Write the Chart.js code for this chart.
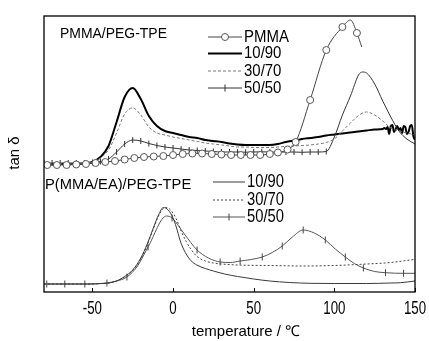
<!DOCTYPE html>
<html><head><meta charset="utf-8">
<script src="https://cdn.jsdelivr.net/npm/chart.js@4"></script>
<style>html,body{margin:0;padding:0;background:#fff}</style>
</head><body>
<canvas id="c" width="429" height="341"></canvas>
<script>
// ---------- data (tan δ in arbitrary, vertically offset units) ----------
const xTicks = [-50, 0, 50, 100, 150];
const panelLabels = ['PMMA/PEG-TPE', 'P(MMA/EA)/PEG-TPE'];
const topLegend = ['PMMA', '10/90', '30/70', '50/50'];
const bottomLegend = ['10/90', '30/70', '50/50'];
const xTitle = 'temperature / \u2103';
const yTitle = 'tan \u03B4';

// upper group: PMMA/PEG-TPE
const pmmaT = [-78,-72,-66,-60,-54,-48,-42,-36,-30,-24,-18,-12,-6,0,6,12,18,24,30,36,42,48,54,60,65,71,76,85,95,105,110,114,117];
const pmmaV = [1.27,1.27,1.27,1.275,1.28,1.29,1.30,1.31,1.325,1.34,1.35,1.355,1.36,1.37,1.38,1.385,1.385,1.38,1.375,1.37,1.37,1.37,1.37,1.38,1.395,1.425,1.50,1.92,2.42,2.65,2.72,2.59,2.45];

const top1090T = [-80,-75,-70,-65,-60,-55,-50,-45,-40,-35,-30,-25,-20,-15,-10,-5,0,5,10,15,20,25,30,35,40,45,50,55,60,65,70,75,80,85,90,95,100,105,110,115,120,125,130,131,132,133,134,135,136,137,138,139,140,141,142,143,144,145,146,147,148,149,150];
const top1090V = [1.28,1.28,1.28,1.28,1.28,1.285,1.30,1.35,1.46,1.70,1.95,2.04,1.93,1.76,1.66,1.61,1.59,1.57,1.55,1.54,1.52,1.51,1.50,1.485,1.475,1.47,1.47,1.47,1.47,1.48,1.50,1.515,1.53,1.54,1.55,1.565,1.575,1.585,1.595,1.605,1.615,1.625,1.63,1.64,1.63,1.65,1.58,1.66,1.67,1.60,1.63,1.66,1.62,1.64,1.59,1.66,1.65,1.58,1.60,1.66,1.67,1.56,1.52];

const top3070T = [-80,-75,-70,-65,-60,-55,-50,-45,-40,-35,-30,-25,-20,-15,-10,-5,0,5,10,15,20,25,30,35,40,45,50,55,60,65,70,75,80,85,90,95,100,105,110,115,120,125,130,135,140,145,150];
const top3070V = [1.28,1.28,1.28,1.28,1.28,1.285,1.295,1.34,1.42,1.59,1.78,1.84,1.77,1.65,1.59,1.57,1.55,1.535,1.52,1.505,1.49,1.48,1.47,1.46,1.45,1.45,1.445,1.445,1.445,1.45,1.455,1.46,1.465,1.47,1.48,1.495,1.53,1.61,1.69,1.765,1.80,1.77,1.71,1.64,1.61,1.59,1.57];

const top5050T = [-80,-75,-70,-65,-60,-55,-50,-45,-40,-35,-30,-25,-20,-15,-10,-5,0,5,10,15,20,25,30,35,40,45,50,55,60,65,70,75,80,85,90,95,100,105,110,115,117.5,120,125,130,135,140,145,150];
const top5050V = [1.29,1.29,1.29,1.29,1.29,1.29,1.295,1.305,1.33,1.40,1.48,1.52,1.51,1.485,1.465,1.45,1.44,1.43,1.42,1.415,1.41,1.405,1.40,1.40,1.40,1.398,1.40,1.402,1.40,1.398,1.40,1.40,1.397,1.40,1.40,1.405,1.55,1.77,1.96,2.17,2.20,2.19,2.08,1.91,1.75,1.61,1.53,1.48];

// lower group: P(MMA/EA)/PEG-TPE
const b1090T = [-80,-70,-60,-50,-45,-40,-35,-30,-25,-20,-16,-12,-9,-6,-3,0,2,4.3,6.5,8.5,11,14.7,20,25,32,40,50,60,72,85,100,120,135,141,150];
const b1090V = [0.08,0.08,0.08,0.08,0.085,0.09,0.11,0.155,0.22,0.34,0.48,0.65,0.77,0.845,0.82,0.74,0.65,0.52,0.43,0.37,0.315,0.27,0.235,0.21,0.18,0.155,0.13,0.11,0.095,0.087,0.085,0.085,0.09,0.093,0.11];

const b3070T = [-80,-70,-60,-50,-45,-40,-35,-30,-25,-20,-16,-12,-9,-6,-4,-1,2,5,8,11,14.9,20,25,30,40,60,80,100,120,135,150];
const b3070V = [0.08,0.08,0.08,0.08,0.085,0.09,0.11,0.15,0.215,0.33,0.47,0.64,0.76,0.835,0.845,0.81,0.73,0.61,0.51,0.43,0.355,0.31,0.29,0.28,0.27,0.265,0.26,0.265,0.28,0.295,0.327];

const b5050T = [-78.3,-72.7,-67.1,-61,-54.7,-48,-41,-35,-28.6,-22,-15.5,-4,-0.6,7,14.9,22,29.2,35.5,41.6,48.5,55.3,61.5,67.7,74,80.7,87.5,94.4,100.6,106.8,112.4,118,125,131.7,137.3,142.9,150];
const b5050V = [0.08,0.08,0.08,0.08,0.08,0.082,0.09,0.11,0.15,0.26,0.45,0.76,0.74,0.58,0.42,0.34,0.30,0.295,0.31,0.325,0.35,0.395,0.46,0.55,0.62,0.59,0.52,0.43,0.35,0.285,0.24,0.205,0.193,0.188,0.187,0.187];

// ---------- chart ----------
const SANS = '"Liberation Sans", Arial, sans-serif';
const zip = (t, v) => t.map((x, i) => ({x, y: v[i]}));

const base = {fill: false, cubicInterpolationMode: 'monotone', pointHitRadius: 0, pointHoverRadius: 0};

const dsB1090 = {...base, label: '10/90', data: zip(b1090T, b1090V), borderColor: '#3a3a3a', borderWidth: 1, pointRadius: 0};
const dsB3070 = {...base, label: '30/70', data: zip(b3070T, b3070V), borderColor: '#444', borderWidth: 1, borderDash: [2, 2], pointRadius: 0};
const dsB5050 = {...base, label: '50/50', data: zip(b5050T, b5050V), borderColor: '#555', borderWidth: 1,
  pointStyle: 'line', rotation: 90, pointBorderColor: '#444', pointBorderWidth: 1,
  pointRadius: c => (c.dataIndex % 2 === 0 ? 3.5 : 0)};
const dsPMMA = {...base, label: 'PMMA', data: zip(pmmaT, pmmaV), borderColor: '#444', borderWidth: 1,
  pointStyle: 'circle', pointBackgroundColor: '#fff', pointBorderColor: '#555', pointBorderWidth: 1,
  pointRadius: c => {
    const max = Math.max(...pmmaV);
    return (pmmaV[c.dataIndex] === max || c.dataIndex === pmmaV.length - 1) ? 0 : 3.5;
  }};
const dsT5050 = {...base, label: '50/50', data: zip(top5050T, top5050V), borderColor: '#333', borderWidth: 1,
  pointStyle: 'line', rotation: 90, pointBorderColor: '#333', pointBorderWidth: 1,
  pointRadius: c => (c.raw && c.raw.x <= 95 ? 3 : 0)};
const dsT3070 = {...base, label: '30/70', data: zip(top3070T, top3070V), borderColor: '#777', borderWidth: 1, borderDash: [3, 2], pointRadius: 0};
const dsT1090 = {...base, label: '10/90', data: zip(top1090T, top1090V), borderColor: '#000', borderWidth: 2, pointRadius: 0};

// text drawn with a horizontal squeeze (the original uses a condensed face)
function squeezedText(ctx, text, x, y, size, sx, align) {
  ctx.save();
  ctx.font = size + 'px ' + SANS;
  ctx.textBaseline = 'middle';
  ctx.textAlign = align || 'left';
  ctx.translate(x, y);
  ctx.scale(sx, 1);
  ctx.fillStyle = '#000';
  ctx.fillText(text, 0, 0);
  ctx.restore();
}

function drawSample(ctx, ds, x1, x2, y) {
  ctx.save();
  ctx.strokeStyle = ds.borderColor;
  ctx.lineWidth = ds.borderWidth;
  ctx.setLineDash(ds.borderDash || []);
  ctx.beginPath(); ctx.moveTo(x1, y); ctx.lineTo(x2, y); ctx.stroke();
  ctx.setLineDash([]);
  const cx = (x1 + x2) / 2;
  if (ds.pointStyle === 'circle') {
    ctx.fillStyle = '#fff'; ctx.strokeStyle = ds.pointBorderColor; ctx.lineWidth = 1;
    ctx.beginPath(); ctx.arc(cx, y, 3.5, 0, Math.PI * 2); ctx.fill(); ctx.stroke();
  } else if (ds.pointStyle === 'line') {
    ctx.strokeStyle = ds.pointBorderColor; ctx.lineWidth = 1;
    ctx.beginPath(); ctx.moveTo(cx, y - 3.5); ctx.lineTo(cx, y + 3.5); ctx.stroke();
  }
  ctx.restore();
}

const deco = {
  id: 'deco',
  afterDatasetsDraw(chart) {
    const {ctx, chartArea: a, scales: {x}} = chart;
    ctx.save();
    ctx.strokeStyle = '#000'; ctx.lineWidth = 1.3;
    ctx.strokeRect(a.left, a.top, a.right - a.left, a.bottom - a.top);
    ctx.lineWidth = 1;
    x.ticks.forEach(t => {
      const px = Math.round(x.getPixelForValue(t.value)) + 0.5;
      ctx.beginPath(); ctx.moveTo(px, a.bottom); ctx.lineTo(px, a.bottom - 4); ctx.stroke();
      squeezedText(ctx, String(t.value), x.getPixelForValue(t.value), a.bottom + 17.5, 17.5, 0.76, 'center');
    });

    squeezedText(ctx, panelLabels[0], 60, 34, 15, 0.93);
    squeezedText(ctx, panelLabels[1], 45, 185, 15, 0.98);

    const topDs = [dsPMMA, dsT1090, dsT3070, dsT5050];
    const topY = [37, 53.5, 71, 88];
    topDs.forEach((ds, i) => {
      drawSample(ctx, ds, 208, 242, topY[i]);
      squeezedText(ctx, topLegend[i], 244, topY[i], 17, 0.88);
    });
    const botDs = [dsB1090, dsB3070, dsB5050];
    const botY = [182, 200, 217];
    botDs.forEach((ds, i) => {
      drawSample(ctx, ds, 213, 245, botY[i]);
      squeezedText(ctx, bottomLegend[i], 247, botY[i], 18, 0.82);
    });

    squeezedText(ctx, xTitle, 246, 332, 15, 1, 'center');
    ctx.save(); ctx.translate(15, 153); ctx.rotate(-Math.PI / 2);
    squeezedText(ctx, yTitle, 0, 0, 15, 1, 'center');
    ctx.restore();
    ctx.restore();
  }
};

new Chart(document.getElementById('c'), {
  type: 'line',
  data: {datasets: [dsB1090, dsB3070, dsB5050, dsPMMA, dsT3070, dsT5050, dsT1090]},
  options: {
    responsive: false, animation: false, devicePixelRatio: 1,
    layout: {padding: {left: 0, right: 14, top: 16, bottom: 0}},
    plugins: {legend: {display: false}, tooltip: {enabled: false}},
    scales: {
      x: {type: 'linear', min: -80, max: 150,
        afterBuildTicks: s => { s.ticks = xTicks.map(v => ({value: v})); },
        afterFit: s => { s.height = 49; },
        grid: {display: false, drawTicks: false}, border: {display: false},
        ticks: {display: false}},
      y: {min: 0, max: 2.76,
        afterFit: s => { s.width = 44; },
        grid: {display: false, drawTicks: false}, border: {display: false},
        ticks: {display: false}}
    }
  },
  plugins: [deco]
});
</script>
</body></html>
